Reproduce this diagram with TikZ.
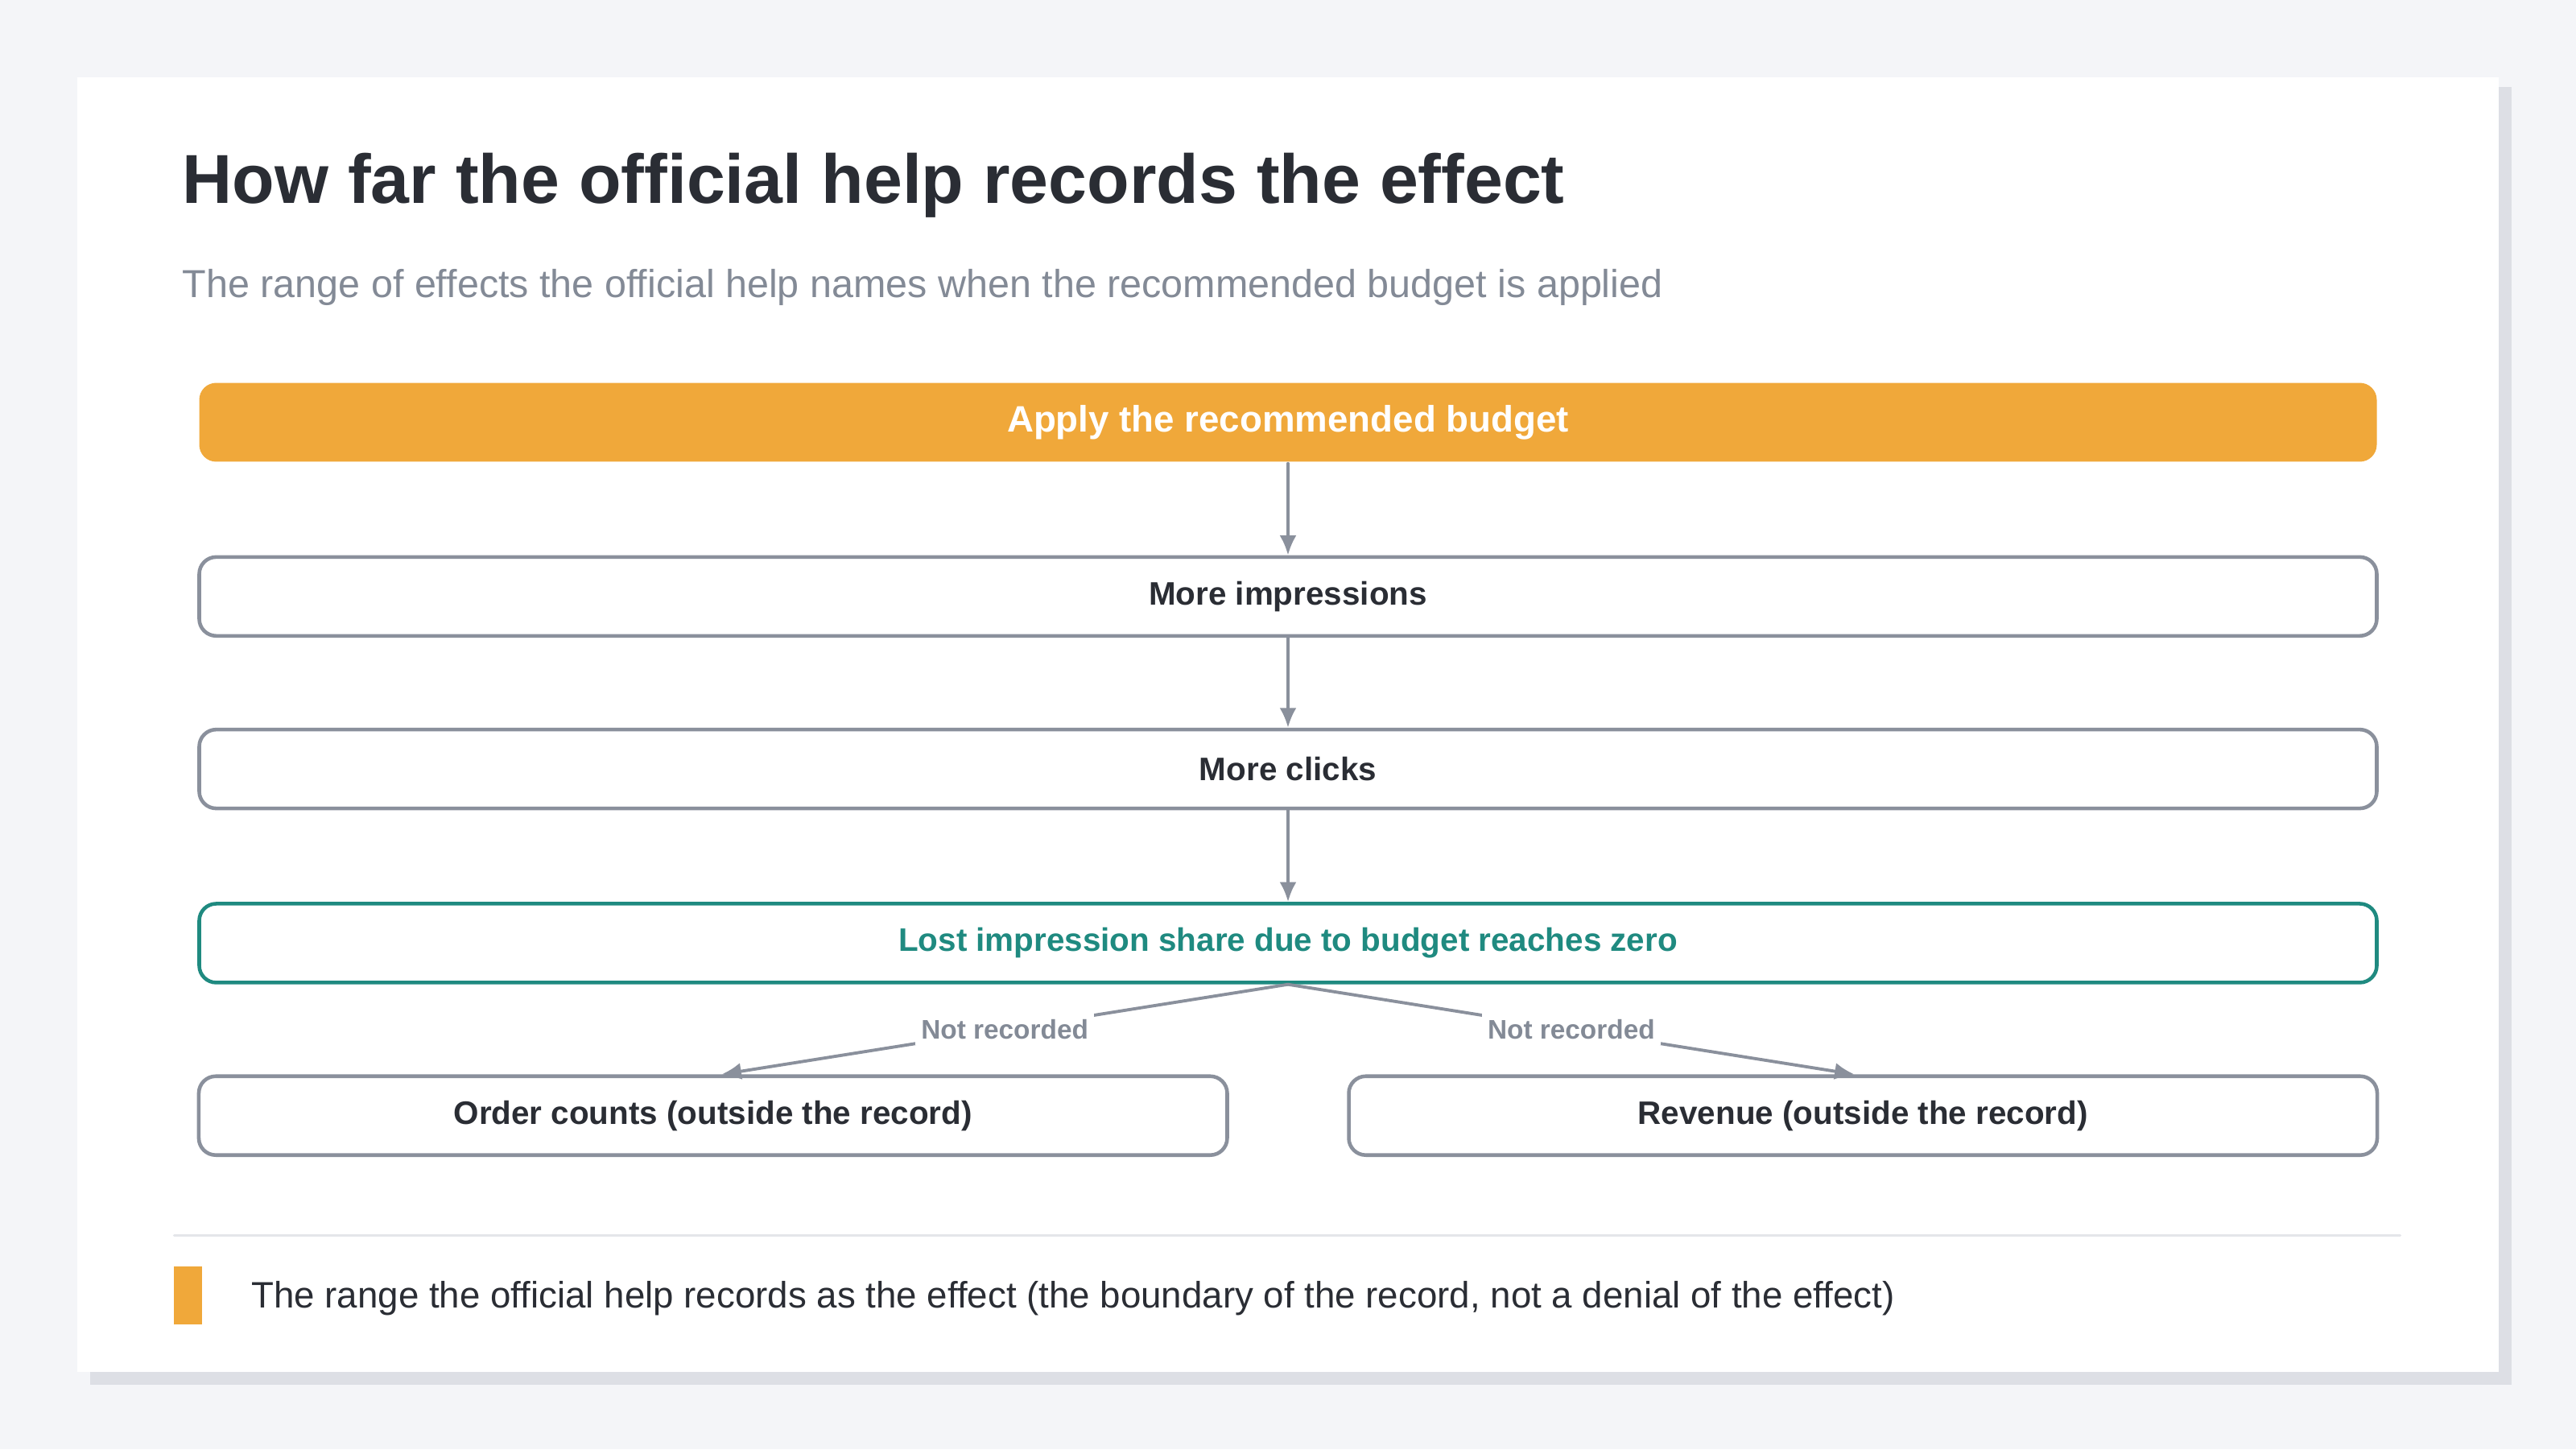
\documentclass[tikz,border=0pt]{standalone}
\usepackage{fontspec}
\setmainfont{Liberation Sans}
\usetikzlibrary{positioning,arrows.meta}
\definecolor{pagebg}{HTML}{F4F5F8}
\definecolor{shadowc}{HTML}{DDDFE5}
\definecolor{inkc}{HTML}{2A2D34}
\definecolor{mutedc}{HTML}{838A96}
\definecolor{edgec}{HTML}{8A909C}
\definecolor{orangec}{HTML}{F0A83A}
\definecolor{tealc}{HTML}{1F8A80}
\definecolor{rulec}{HTML}{E4E6EA}
\tikzset{
  stage/.style={draw=edgec,line width=1.3pt,rounded corners=6pt,fill=white,
    minimum width=27.06cm,minimum height=0.98cm,inner sep=0pt,
    font=\fontsize{11.5}{14}\selectfont\bfseries,text=inkc},
  half/.style={stage,minimum width=12.78cm},
  flow/.style={draw=edgec,line width=1.1pt,-{Latex[length=7pt,width=6pt]}},
  tag/.style={fill=white,inner sep=2pt,font=\fontsize{9.5}{11}\selectfont\bfseries,text=mutedc}
}
\begin{document}
\begin{tikzpicture}[x=0.02041cm,y=-0.02041cm,line cap=round,line join=round]
    % page and card
    \fill[pagebg] (0,0) rectangle (1568,882);
    \fill[shadowc] (55,53) rectangle (1529,843);
    \fill[white] (47,47) rectangle (1521,835);

    % heading
    \node[anchor=west,font=\fontsize{24.5}{28}\selectfont\bfseries,text=inkc] (title) at (105,113) {How far the official help records the effect};
    \node[anchor=west,font=\fontsize{13.8}{16}\selectfont,text=mutedc] (subtitle) at (105,175) {The range of effects the official help names when the recommended budget is applied};

    % chain
    \node[stage,draw=none,fill=orangec,text=white,font=\fontsize{13}{15}\selectfont\bfseries] (budget) at (784,257) {Apply the recommended budget};
    \node[stage] (impr) at (784,363) {More impressions};
    \node[stage] (clicks) at (784,468) {More clicks};
    \node[stage,draw=tealc,text=tealc] (lost) at (784,574) {Lost impression share due to budget reaches zero};
    \node[half] (orders) at (434,679) {Order counts (outside the record)};
    \node[half] (revenue) at (1134,679) {Revenue (outside the record)};

    \draw[flow] (budget) -- (impr);
    \draw[flow] (impr) -- (clicks);
    \draw[flow] (clicks) -- (lost);
    \draw[flow] (lost.south) -- node[tag]{Not recorded} ([xshift=3pt]orders.north);
    \draw[flow] (lost.south) -- node[tag]{Not recorded} ([xshift=-3pt]revenue.north);

    % legend
    \draw[rulec,line width=0.8pt] (106,752) -- (1461,752);
    \fill[orangec] (106,771) rectangle (123,806);
    \node[anchor=west,font=\fontsize{13}{15}\selectfont,text=inkc] (legend) at (147,790) {The range the official help records as the effect (the boundary of the record, not a denial of the effect)};
  \end{tikzpicture}
\end{document}
